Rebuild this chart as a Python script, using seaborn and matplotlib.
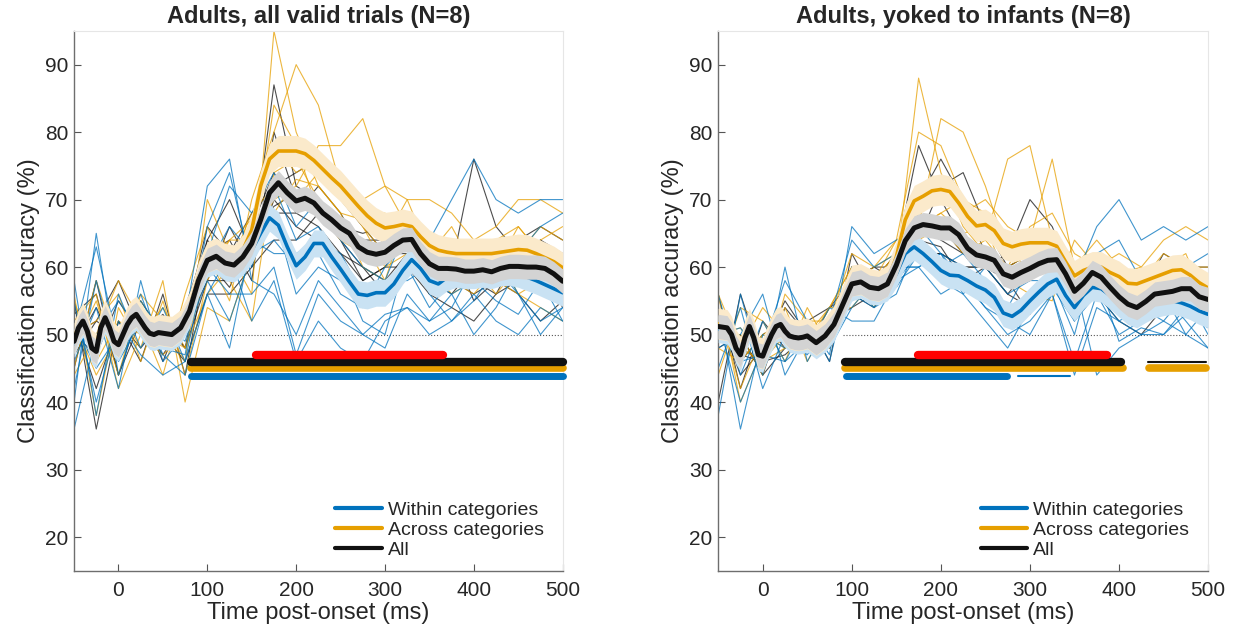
import numpy as np
import pandas as pd
import matplotlib
matplotlib.use("Agg")
import matplotlib.pyplot as plt
import seaborn as sns
from matplotlib.lines import Line2D

# time grids (ms)
t_mean = np.concatenate([np.arange(-50, 51, 5), np.arange(60, 501, 10)])
t_subj = np.arange(-50, 501, 25)

# ---------------- left panel: all valid trials ----------------
left_all_mean = [49, 51, 52, 50.5, 48, 47.5, 51, 52.5, 51, 49, 48.5, 50, 51.5, 52.5, 53, 52, 51, 50.2, 50, 50.3, 50.2,
                 50, 51, 53.5, 58, 61,
                 61.6, 60.6, 60.3, 61.5, 63.5, 67, 71, 72.5, 71, 69.8,
                 70.2, 69.5, 68, 67, 65.8, 65, 63, 62.2, 61.9, 62.2,
                 63.2, 64, 64.1, 62, 60.5, 59.8, 59.8, 59.7, 59.4, 59.4,
                 59.6, 59.3, 59.8, 60.1, 60.1, 60, 60, 59.8, 59, 57.9]
left_across_mean = [49.4, 51.4, 52.4, 50.9, 48.4, 47.9, 51.4, 52.9, 51.4, 49.4, 48.9, 50.4, 51.9, 52.9, 53.4, 52.4, 51.4, 50.6, 50.4, 50.7, 50.6,
                    50.4, 51.4, 54, 58.5, 61.5,
                    62, 61.2, 61, 62.5, 65.5, 72, 76, 77.2, 77.2, 77.2,
                    76.8, 75.8, 74.5, 73.2, 72, 70.5, 69, 67.6, 66.5, 65.8,
                    66, 66.3, 66, 64.5, 63.2, 62.5, 62.2, 62, 62, 62,
                    62, 62, 62.2, 62.4, 62.6, 62.5, 62, 61.4, 60.8, 59.9]
left_within_mean = [48.6, 50.6, 51.6, 50.1, 47.6, 47.1, 50.6, 52.1, 50.6, 48.6, 48.1, 49.6, 51.1, 52.1, 52.6, 51.6, 50.6, 49.8, 49.6, 49.9, 49.8,
                    49.6, 50.6, 53, 57.5, 60.5,
                    61, 60, 59.8, 60.8, 62.5, 65, 67.3, 66.2, 63, 60.2,
                    61.5, 63.5, 63.5, 61.5, 59.7, 57.8, 56, 55.8, 56.2, 56.2,
                    57.5, 59.5, 61.1, 59.8, 58, 57.5, 58.5, 59, 58.8, 58.8,
                    59, 58.8, 59.2, 59.3, 59, 58.5, 58, 57.4, 56.8, 56.2]

left_within_subj = [
    [42, 58, 46, 52, 48, 47, 66, 74, 60, 72, 64, 66, 60, 52, 50, 62, 64, 70, 76, 70, 68, 70, 70],
    [55, 40, 52, 47, 44, 46, 62, 72, 68, 74, 66, 70, 64, 60, 58, 66, 56, 52, 55, 60, 56, 52, 54],
    [50, 63, 48, 55, 50, 50, 58, 52, 62, 64, 60, 62, 56, 54, 60, 64, 58, 56, 50, 54, 60, 58, 52],
    [36, 50, 55, 50, 52, 49, 60, 56, 56, 60, 47, 56, 52, 50, 53, 54, 52, 56, 58, 55, 53, 58, 55],
    [52, 45, 50, 56, 47, 44, 56, 48, 64, 62, 62, 64, 62, 56, 58, 58, 60, 62, 60, 62, 56, 50, 54],
    [40, 65, 44, 54, 50, 52, 72, 76, 58, 56, 50, 58, 54, 50, 48, 56, 52, 54, 60, 58, 62, 66, 68],
    [58, 38, 56, 48, 54, 46, 56, 62, 52, 58, 46, 52, 48, 46, 52, 54, 50, 52, 56, 52, 50, 54, 52],
    [46, 54, 42, 58, 46, 50, 60, 66, 62, 68, 56, 60, 58, 54, 56, 60, 54, 58, 62, 64, 58, 60, 58],
]
left_across_subj = [
    [48, 55, 44, 56, 52, 46, 70, 62, 56, 95, 80, 72, 68, 60, 58, 68, 60, 56, 58, 60, 62, 66, 64],
    [55, 46, 52, 50, 47, 50, 62, 55, 70, 80, 90, 84, 72, 66, 60, 62, 58, 62, 64, 58, 56, 58, 56],
    [50, 52, 56, 46, 55, 44, 58, 64, 64, 70, 72, 78, 78, 82, 72, 66, 64, 60, 62, 64, 66, 62, 60],
    [45, 58, 48, 52, 49, 52, 60, 60, 68, 72, 70, 74, 74, 70, 72, 70, 70, 68, 64, 66, 70, 70, 68],
    [52, 44, 50, 55, 50, 48, 60, 64, 67, 68, 73, 72, 68, 67, 68, 64, 63, 64, 62, 62, 56, 54, 52],
    [56, 38, 54, 48, 58, 40, 54, 52, 62, 84, 78, 68, 64, 62, 64, 70, 62, 58, 56, 60, 66, 62, 62],
    [44, 50, 58, 52, 44, 56, 66, 58, 52, 74, 76, 70, 66, 64, 58, 60, 62, 66, 60, 56, 60, 64, 66],
    [52, 56, 42, 50, 54, 48, 56, 60, 66, 78, 74, 76, 70, 66, 62, 66, 60, 58, 62, 62, 58, 56, 58],
]
left_all_subj = [
    [50, 47, 55, 50, 53, 48, 64, 70, 62, 87, 72, 70, 64, 58, 60, 66, 58, 60, 76, 66, 62, 64, 60],
    [53, 56, 44, 52, 47, 52, 66, 62, 68, 72, 74, 76, 70, 66, 62, 62, 56, 54, 52, 56, 58, 60, 54],
    [47, 52, 50, 55, 50, 46, 56, 56, 60, 64, 64, 68, 66, 64, 64, 66, 64, 64, 58, 60, 64, 66, 64],
    [52, 42, 52, 48, 52, 51, 58, 58, 64, 68, 68, 66, 62, 60, 58, 62, 60, 58, 56, 58, 56, 52, 55],
    [48, 54, 47, 53, 48, 50, 61, 57, 64, 69, 71, 69, 66, 65, 66, 64, 64, 63, 55, 58, 60, 58, 57],
    [55, 36, 52, 46, 56, 44, 62, 64, 58, 80, 70, 68, 64, 60, 56, 62, 58, 56, 60, 62, 58, 56, 58],
    [45, 58, 44, 54, 46, 54, 64, 60, 66, 74, 68, 72, 68, 62, 64, 68, 62, 60, 58, 56, 62, 64, 62],
    [50, 52, 58, 50, 52, 48, 58, 66, 60, 70, 66, 64, 62, 58, 60, 60, 56, 58, 62, 60, 58, 60, 56],
]

# significant clusters (start, end) in ms
left_sig_all = [(82, 500)]
left_sig_across = [(82, 500)]
left_sig_within = [(82, 500)]
left_sig_diff = [(155, 365)]
left_sig_all_thin = []
left_sig_within_thin = []

# ---------------- right panel: yoked to infants ----------------
right_all_mean = [51.2, 51.1, 51, 50, 48, 47, 49.5, 51.2, 49.5, 47, 46.8, 48.5, 50, 51.2, 51.5, 50.5, 49.8, 49.6, 49.5, 49.6, 49.8,
                  48.8, 49.8, 51.5, 54.5, 57.5,
                  57.8, 57, 56.8, 57.5, 60.3, 63.9, 65.8, 66.3, 66.1, 65.8,
                  65.8, 64.8, 62.8, 61.8, 61.5, 61, 59, 58.5, 59.2, 59.8,
                  60.5, 61, 61.1, 59, 56.4, 57.6, 59.2, 58.5, 57, 55.6,
                  54.5, 54, 54.9, 56, 56.2, 56.4, 56.8, 56.8, 55.6, 55.2]
right_across_mean = [51.6, 51.5, 51.4, 50.4, 48.4, 47.4, 49.9, 51.6, 49.9, 47.4, 47.2, 48.9, 50.4, 51.6, 51.9, 50.9, 50.2, 50, 49.9, 50, 50.2,
                     49.2, 50.2, 52, 55, 58,
                     58.2, 57.5, 57.2, 58, 61.5, 67, 69.8, 70.5, 71.3, 71.5,
                     71.2, 69.5, 67.5, 66.1, 66.3, 65.4, 63.5, 63, 63.4, 63.6,
                     63.6, 63.6, 63.1, 60.8, 58.7, 59.5, 60, 60, 59.2, 58.6,
                     57.6, 57.5, 58, 58.5, 59, 59.5, 59.6, 58.8, 57.7, 56.9]
right_within_mean = [50.8, 50.7, 50.6, 49.6, 47.6, 46.6, 49.1, 50.8, 49.1, 46.6, 46.4, 48.1, 49.6, 50.8, 51.1, 50.1, 49.4, 49.2, 49.1, 49.2, 49.4,
                     48.4, 49.4, 51, 54, 57,
                     57.4, 56.5, 56.4, 57, 59, 62, 63, 62, 60.8, 59.5,
                     58.8, 58.7, 58, 57.2, 56.6, 55.5, 53.2, 52.7, 53.6, 55,
                     56.3, 57.5, 58.2, 55.8, 54, 55.8, 57, 56.8, 55.8, 54.6,
                     53.5, 53, 53.8, 54.5, 54.8, 55, 54.7, 54.2, 53.5, 53]

right_within_subj = [
    [52, 40, 48, 58, 52, 47, 66, 62, 64, 66, 62, 60, 58, 54, 60, 62, 58, 66, 70, 64, 66, 64, 66],
    [45, 54, 42, 50, 47, 52, 58, 54, 56, 64, 58, 58, 54, 50, 52, 56, 46, 56, 52, 50, 50, 54, 52],
    [56, 44, 52, 46, 52, 48, 54, 58, 60, 60, 62, 56, 60, 56, 58, 58, 56, 60, 54, 52, 56, 52, 48],
    [50, 51, 46, 53, 48, 54, 52, 52, 58, 60, 56, 58, 54, 52, 50, 56, 58, 44, 48, 50, 52, 50, 48],
    [52, 46, 47, 46, 49, 52, 55, 57, 57, 62, 60, 60, 57, 53, 55, 57, 52, 59, 49, 51, 50, 53, 51],
    [38, 56, 44, 60, 46, 52, 64, 60, 62, 64, 58, 56, 52, 48, 54, 58, 50, 62, 64, 58, 56, 60, 62],
    [54, 36, 50, 48, 52, 46, 60, 56, 58, 62, 60, 62, 58, 52, 54, 56, 44, 54, 52, 54, 52, 56, 50],
    [48, 50, 56, 44, 50, 50, 56, 54, 60, 60, 62, 58, 56, 54, 56, 60, 52, 56, 50, 52, 56, 50, 54],
]
right_across_subj = [
    [54, 42, 50, 52, 48, 54, 60, 56, 60, 88, 74, 66, 62, 58, 60, 62, 56, 58, 56, 54, 56, 58, 54],
    [50, 50, 44, 56, 52, 48, 56, 58, 64, 66, 82, 80, 72, 62, 60, 60, 58, 60, 62, 60, 64, 66, 64],
    [48, 46, 50, 48, 52, 52, 62, 60, 62, 64, 66, 62, 64, 76, 78, 64, 56, 58, 56, 58, 58, 56, 58],
    [56, 48, 46, 50, 50, 50, 58, 54, 60, 66, 68, 70, 68, 62, 64, 76, 60, 64, 60, 58, 60, 62, 54],
    [50, 51, 46, 48, 49, 54, 54, 58, 62, 66, 68, 65, 66, 58, 56, 55, 64, 60, 59, 60, 57, 56, 55],
    [44, 54, 52, 46, 54, 48, 58, 60, 64, 80, 78, 70, 64, 60, 62, 64, 58, 62, 60, 58, 62, 60, 60],
    [56, 40, 48, 54, 46, 52, 56, 56, 60, 72, 72, 68, 70, 66, 64, 62, 60, 58, 56, 56, 58, 60, 56],
    [52, 48, 54, 50, 50, 54, 60, 58, 62, 68, 66, 64, 62, 60, 66, 68, 62, 60, 58, 54, 56, 58, 52],
]
right_all_subj = [
    [53, 44, 48, 55, 50, 48, 60, 58, 62, 78, 70, 64, 62, 58, 60, 64, 56, 62, 58, 56, 58, 60, 58],
    [49, 50, 44, 48, 52, 54, 56, 54, 58, 64, 72, 74, 66, 60, 62, 58, 54, 56, 52, 50, 54, 56, 52],
    [52, 46, 50, 52, 48, 50, 58, 60, 60, 62, 62, 60, 60, 62, 70, 66, 58, 60, 56, 56, 58, 54, 56],
    [50, 48, 46, 47, 50, 52, 54, 56, 60, 62, 62, 60, 60, 56, 54, 58, 56, 58, 56, 54, 56, 58, 54],
    [52, 47, 46, 51, 49, 49, 60, 57, 61, 64, 63, 58, 60, 58, 53, 59, 58, 58, 56, 57, 55, 56, 56],
    [40, 56, 46, 52, 48, 54, 58, 60, 58, 70, 76, 70, 62, 58, 58, 62, 56, 60, 58, 56, 62, 60, 60],
    [56, 42, 52, 48, 52, 46, 62, 56, 60, 66, 64, 62, 60, 56, 60, 60, 54, 58, 54, 52, 56, 58, 56],
    [48, 50, 44, 54, 50, 52, 56, 58, 62, 66, 66, 62, 62, 60, 62, 64, 58, 60, 58, 56, 54, 56, 52],
]

right_sig_all = [(92, 402)]
right_sig_across = [(92, 405), (434, 498)]
right_sig_within = [(93, 274)]
right_sig_diff = [(174, 387)]
right_sig_all_thin = [(433, 498)]
right_sig_within_thin = [(287, 345)]

sem_within, sem_across, sem_all = 2.0, 2.3, 1.8

BLUE = "#0072BD"
ORANGE = "#E69F00"
BLACK = "#111111"
RED = "#FF0000"
BAND = {"within": "#C9E2F3", "across": "#FBEACB", "all": "#D3D3D3"}

sns.set_theme(style="white")
plt.rcParams["font.family"] = ["Liberation Sans", "DejaVu Sans"]


def draw_panel(ax, title, means, subjects, sigs):
    # individual subjects
    rows = []
    for cond, subj in subjects.items():
        for i, vals in enumerate(subj):
            for t, v in zip(t_subj, vals):
                rows.append((t, v, f"{cond}{i}", cond))
    df = pd.DataFrame(rows, columns=["time", "acc", "subject", "condition"])
    sns.lineplot(data=df, x="time", y="acc", hue="condition", units="subject",
                 estimator=None, palette={"within": BLUE, "across": ORANGE, "all": BLACK},
                 hue_order=["all", "across", "within"],
                 lw=0.8, alpha=0.75, legend=False, ax=ax, zorder=1)

    ax.plot([90, 500], [50, 50], ls=":", color="#555555", lw=0.8, zorder=0.5)

    # significance bars
    for (s, e) in sigs["within"]:
        ax.plot([s, e], [43.9, 43.9], color=BLUE, lw=5, solid_capstyle="round", zorder=3, clip_on=False)
    for (s, e) in sigs["within_thin"]:
        ax.plot([s, e], [43.9, 43.9], color=BLUE, lw=1.5, zorder=3, clip_on=False)
    for (s, e) in sigs["across"]:
        ax.plot([s, e], [45.0, 45.0], color=ORANGE, lw=5.5, solid_capstyle="round", zorder=3.1, clip_on=False)
    for (s, e) in sigs["all"]:
        ax.plot([s, e], [46.0, 46.0], color=BLACK, lw=6, solid_capstyle="round", zorder=3.2, clip_on=False)
    for (s, e) in sigs["all_thin"]:
        ax.plot([s, e], [46.0, 46.0], color=BLACK, lw=1.5, zorder=3.2, clip_on=False)
    for (s, e) in sigs["diff"]:
        ax.plot([s, e], [47.0, 47.0], color=RED, lw=6, solid_capstyle="round", zorder=3.3, clip_on=False)

    # mean +- sem
    z = 4
    for cond, color, sem, lw in [("within", BLUE, sem_within, 2.6),
                                 ("across", ORANGE, sem_across, 2.6),
                                 ("all", BLACK, sem_all, 3.6)]:
        m = np.array(means[cond])
        ax.fill_between(t_mean, m - sem, m + sem, color=BAND[cond], lw=0, zorder=z)
        sns.lineplot(x=t_mean, y=m, color=color, lw=lw, ax=ax, zorder=z + 0.5)
        z += 1

    ax.set_xlim(-50, 500)
    ax.set_ylim(15, 95)
    ax.set_xticks([0, 100, 200, 300, 400, 500])
    ax.set_yticks([20, 30, 40, 50, 60, 70, 80, 90])
    ax.tick_params(direction="in", length=5, width=0.8, labelsize=15,
                   bottom=True, left=True, top=False, right=False,
                   color="#555555", labelcolor="#262626")
    ax.tick_params(axis="x", pad=7)
    ax.tick_params(axis="y", pad=4)
    for sp in ["left", "bottom"]:
        ax.spines[sp].set_color("#6e6e6e")
        ax.spines[sp].set_linewidth(1.0)
    for sp in ["top", "right"]:
        ax.spines[sp].set_color("#e6e6e6")
        ax.spines[sp].set_linewidth(0.8)
    ax.set_xlabel("Time post-onset (ms)", fontsize=17, color="#262626", labelpad=2)
    ax.set_ylabel("Classification accuracy (%)", fontsize=17, color="#262626", labelpad=4)
    ax.set_title(title, fontsize=17, fontweight="bold", pad=6)

    handles = [Line2D([], [], color=BLUE, lw=3),
               Line2D([], [], color=ORANGE, lw=3),
               Line2D([], [], color=BLACK, lw=3)]
    ax.legend(handles, ["Within categories", "Across categories", "All"],
              loc="lower right", frameon=False, fontsize=14, handlelength=2.4,
              handletextpad=0.3, labelspacing=0.12, borderaxespad=0.2,
              bbox_to_anchor=(0.985, 0.0))


fig = plt.figure(figsize=(12.34, 6.3), dpi=100)
ax1 = fig.add_axes([0.060, 0.094, 0.396, 0.857])
ax2 = fig.add_axes([0.582, 0.094, 0.397, 0.857])

draw_panel(ax1, "Adults, all valid trials (N=8)",
           {"within": left_within_mean, "across": left_across_mean, "all": left_all_mean},
           {"within": left_within_subj, "across": left_across_subj, "all": left_all_subj},
           {"within": left_sig_within, "across": left_sig_across, "all": left_sig_all,
            "diff": left_sig_diff, "all_thin": left_sig_all_thin, "within_thin": left_sig_within_thin})
draw_panel(ax2, "Adults, yoked to infants (N=8)",
           {"within": right_within_mean, "across": right_across_mean, "all": right_all_mean},
           {"within": right_within_subj, "across": right_across_subj, "all": right_all_subj},
           {"within": right_sig_within, "across": right_sig_across, "all": right_sig_all,
            "diff": right_sig_diff, "all_thin": right_sig_all_thin, "within_thin": right_sig_within_thin})

fig.savefig("out.png", dpi=100)
plt.close(fig)
